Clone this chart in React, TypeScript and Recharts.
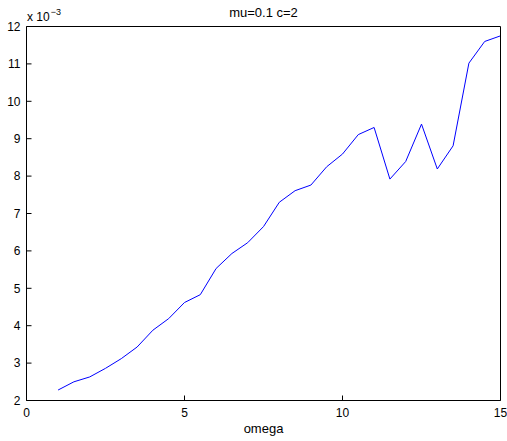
import React from 'react';
import { LineChart, Line, XAxis, YAxis, Label } from 'recharts';

// omega values (x) and response values (y, in units of 1)
const omega = [1, 1.5, 2, 2.5, 3, 3.5, 4, 4.5, 5, 5.5, 6, 6.5, 7, 7.5, 8, 8.5, 9, 9.5, 10, 10.5, 11, 11.5, 12, 12.5, 13, 13.5, 14, 14.5, 15];
const response = [
  0.00228, 0.00250, 0.00263, 0.00286, 0.00312, 0.00343, 0.00388, 0.00419, 0.00462, 0.00483,
  0.00553, 0.00593, 0.00622, 0.00665, 0.00730, 0.00761, 0.00776, 0.00825, 0.00859, 0.00911,
  0.00930, 0.00792, 0.00839, 0.00939, 0.00819, 0.00881, 0.01102, 0.01160, 0.01175,
];
const xTicks = [0, 5, 10, 15];
const yTicks = [0.002, 0.003, 0.004, 0.005, 0.006, 0.007, 0.008, 0.009, 0.01, 0.011, 0.012];
const title = 'mu=0.1 c=2';
const xLabel = 'omega';

const data = omega.map((w, i) => ({ omega: w, value: response[i] }));

const FONT = '"Liberation Sans", Arial, Helvetica, sans-serif';
const tickStyle = { fill: '#000', fontSize: 12, fontFamily: FONT };

const App: React.FC = () => {
  return (
    <div style={{ position: 'absolute', left: 0, top: 0, width: 507, height: 441, background: '#fff' }}>
      <LineChart
        width={507}
        height={441}
        data={data}
        margin={{ top: 25.5, right: 5.5, bottom: 0, left: 0 }}
      >
        <XAxis
          dataKey="omega"
          type="number"
          domain={[0, 15]}
          ticks={xTicks}
          interval={0}
          height={40.5}
          tickSize={-5}
          tickMargin={13}
          stroke="#000"
          tick={tickStyle}
        >
          <Label
            content={({ viewBox }: any) => (
              <text
                x={viewBox.x + viewBox.width / 2}
                y={viewBox.y + 32.5}
                textAnchor="middle"
                fontSize={13}
                fontFamily={FONT}
                fill="#000"
                stroke="none"
              >
                {xLabel}
              </text>
            )}
          />
        </XAxis>
        <XAxis
          xAxisId="top"
          dataKey="omega"
          type="number"
          orientation="top"
          domain={[0, 15]}
          ticks={xTicks}
          interval={0}
          height={1}
          tickSize={-5}
          tick={false}
          stroke="#000"
        >
          <Label
            content={({ viewBox }: any) => (
              <text
                x={viewBox.x + viewBox.width / 2}
                y={viewBox.y - 8.5}
                textAnchor="middle"
                fontSize={13}
                fontFamily={FONT}
                fill="#000"
                stroke="none"
              >
                {title}
              </text>
            )}
          />
        </XAxis>
        <YAxis
          type="number"
          domain={[0.002, 0.012]}
          ticks={yTicks}
          interval={0}
          width={26.5}
          tickSize={-5}
          tickMargin={11}
          stroke="#000"
          tick={tickStyle}
          tickFormatter={(v: number) => String(Math.round(v * 1000))}
        >
          <Label
            content={({ viewBox }: any) => (
              <text x={viewBox.x + 27} y={viewBox.y - 5.5} fontSize={12} fontFamily={FONT} fill="#000" stroke="none">
                x 10
                <tspan dx={1} dy={-6} fontSize={9}>−3</tspan>
              </text>
            )}
          />
        </YAxis>
        <YAxis
          yAxisId="right"
          type="number"
          orientation="right"
          domain={[0.002, 0.012]}
          ticks={yTicks}
          interval={0}
          width={1}
          tickSize={-5}
          tick={false}
          stroke="#000"
        />
        <Line
          type="linear"
          dataKey="value"
          stroke="#0000ff"
          strokeWidth={1}
          dot={false}
          activeDot={false}
          isAnimationActive={false}
        />
      </LineChart>
    </div>
  );
};

export default App;
